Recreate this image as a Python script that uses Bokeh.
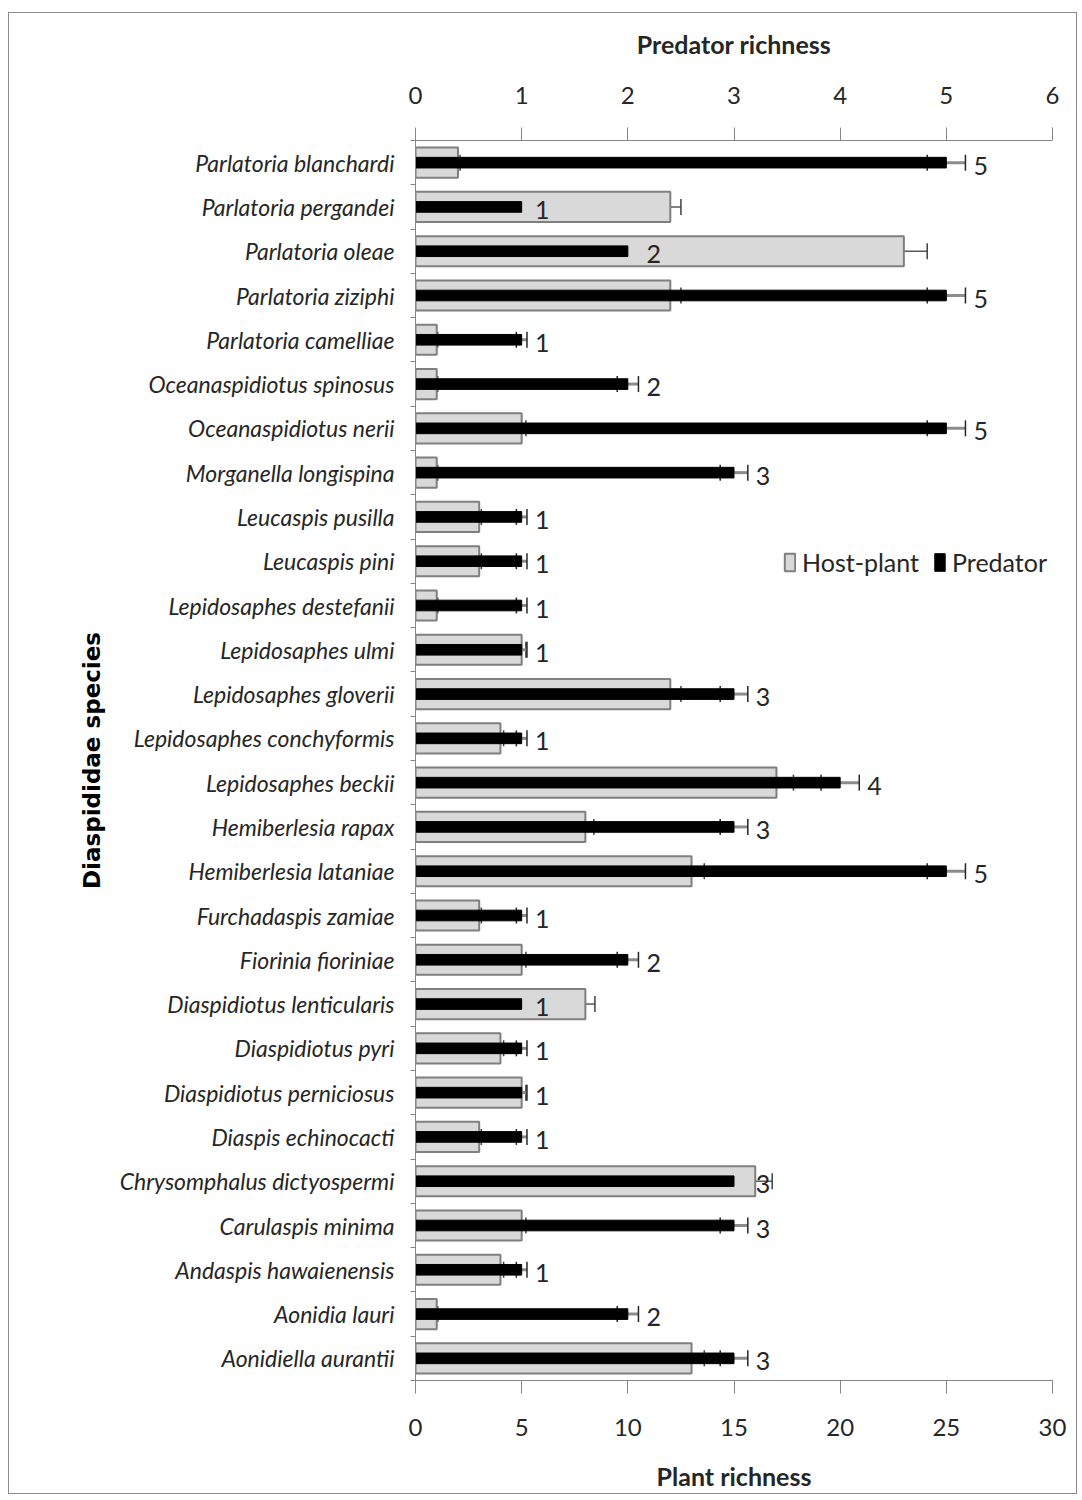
from bokeh.plotting import figure
from bokeh.models import (Range1d, LinearAxis, FixedTicker, Whisker, ColumnDataSource,
                          Legend, LegendItem, TeeHead)
from bokeh.embed import file_html
from bokeh.resources import INLINE
from bokeh.core.properties import value

species = ["Parlatoria blanchardi", "Parlatoria pergandei", "Parlatoria oleae",
           "Parlatoria ziziphi", "Parlatoria camelliae", "Oceanaspidiotus spinosus",
           "Oceanaspidiotus nerii", "Morganella longispina", "Leucaspis pusilla",
           "Leucaspis pini", "Lepidosaphes destefanii", "Lepidosaphes ulmi",
           "Lepidosaphes gloverii", "Lepidosaphes conchyformis", "Lepidosaphes beckii",
           "Hemiberlesia rapax", "Hemiberlesia lataniae", "Furchadaspis zamiae",
           "Fiorinia fioriniae", "Diaspidiotus lenticularis", "Diaspidiotus pyri",
           "Diaspidiotus perniciosus", "Diaspis echinocacti", "Chrysomphalus dictyospermi",
           "Carulaspis minima", "Andaspis hawaienensis", "Aonidia lauri", "Aonidiella aurantii"]
plant_richness = [2, 12, 23, 12, 1, 1, 5, 1, 3, 3, 1, 5, 12, 4, 17, 8, 13, 3, 5, 8, 4, 5, 3, 16, 5, 4, 1, 13]
plant_err = [0.1, 0.5, 1.1, 0.5, 0.05, 0.05, 0.2, 0.05, 0.1, 0.1, 0.05, 0.2, 0.5, 0.15, 0.8,
             0.4, 0.6, 0.1, 0.2, 0.45, 0.15, 0.2, 0.1, 0.8, 0.2, 0.15, 0.05, 0.6]
predator_richness = [5, 1, 2, 5, 1, 2, 5, 3, 1, 1, 1, 1, 3, 1, 4, 3, 5, 1, 2, 1, 1, 1, 1, 3, 3, 1, 2, 3]
predator_err = [0.18, 0.05, 0.1, 0.18, 0.05, 0.1, 0.18, 0.13, 0.05, 0.05, 0.05, 0.05, 0.13, 0.05, 0.18,
                0.13, 0.18, 0.05, 0.1, 0.05, 0.05, 0.05, 0.05, 0.13, 0.13, 0.05, 0.1, 0.13]
plant_ticks = [0, 5, 10, 15, 20, 25, 30]
predator_ticks = [0, 1, 2, 3, 4, 5, 6]

n = len(species)
ypos = [n - 1 - i for i in range(n)]

src = ColumnDataSource(dict(
    y=ypos,
    plant=plant_richness,
    plo=[v - e for v, e in zip(plant_richness, plant_err)],
    phi=[v + e for v, e in zip(plant_richness, plant_err)],
    pred=predator_richness,
    qlo=[v - e for v, e in zip(predator_richness, predator_err)],
    qhi=[v + e for v, e in zip(predator_richness, predator_err)],
    qtxt=[str(v) for v in predator_richness],
))

FONT = "Lato"
OX, OY = 9, 13          # canvas origin on the page (margin + border)
W, H = 1069, 1482
p = figure(width=W, height=H, output_backend="svg", toolbar_location=None,
           x_range=Range1d(0, 30), y_range=Range1d(-0.5, n - 0.5),
           x_axis_location=None, y_axis_location=None,
           min_border_left=415 - OX, min_border_right=W - (1052 - OX),
           min_border_top=140 - OY, min_border_bottom=H - (1380 - OY))
p.extra_x_ranges = {"pred": Range1d(0, 6)}
p.xgrid.visible = False
p.ygrid.visible = False
p.outline_line_color = None
p.styles = {"border": "1px solid #8c8c8c", "margin-left": "8px", "margin-top": "12px"}

axis_col = "#868686"
txt_col = "#262626"

bottom = LinearAxis(ticker=FixedTicker(ticks=plant_ticks), axis_label="Plant richness")
top = LinearAxis(x_range_name="pred", ticker=FixedTicker(ticks=predator_ticks),
                 axis_label="Predator richness")
for ax in (bottom, top):
    ax.axis_line_color = axis_col
    ax.major_tick_line_color = axis_col
    ax.major_tick_out = 13
    ax.major_tick_in = 0
    ax.minor_tick_line_color = None
    ax.major_label_text_font = FONT
    ax.major_label_text_font_size = "24px"
    ax.major_label_text_color = txt_col
    ax.axis_label_text_font = FONT
    ax.axis_label_text_font_style = "bold"
    ax.axis_label_text_font_size = "25px"
    ax.axis_label_text_color = txt_col
top.major_label_standoff = 24
top.axis_label_standoff = 25
bottom.major_label_standoff = 25
bottom.axis_label_standoff = 22
p.add_layout(bottom, "below")
p.add_layout(top, "above")

left = LinearAxis(ticker=FixedTicker(ticks=ypos, minor_ticks=[k + 0.5 for k in range(-1, n)]),
                  major_label_overrides={y: s for y, s in zip(ypos, species)},
                  axis_label="Diaspididae species")
left.axis_line_color = axis_col
left.major_tick_line_color = None
left.minor_tick_line_color = axis_col
left.minor_tick_out = 5
left.minor_tick_in = 0
left.major_label_text_font = FONT
left.major_label_text_font_style = "italic"
left.major_label_text_font_size = "23px"
left.major_label_text_color = txt_col
left.major_label_standoff = 15
left.axis_label_text_font = "DejaVu Sans"
left.axis_label_text_font_style = "bold"
left.axis_label_text_font_size = "23px"
left.axis_label_text_color = "#000000"
left.axis_label_standoff = 12
p.add_layout(left, "left")

r_plant = p.hbar(y="y", right="plant", left=0, height=0.68, source=src,
                 fill_color="#d9d9d9", line_color="#7f7f7f", line_width=2)
p.add_layout(Whisker(base="y", lower="plo", upper="phi", dimension="width", source=src,
                     line_color="#595959", line_width=1.5,
                     upper_head=TeeHead(size=16, line_color="#404040", line_width=1.5),
                     lower_head=TeeHead(size=16, line_color="#404040", line_width=1.5)))

r_pred = p.hbar(y="y", right="pred", left=0, height=0.24, source=src,
                x_range_name="pred", fill_color="#000000", line_color="#000000")
p.add_layout(Whisker(base="y", lower="qlo", upper="qhi", dimension="width", source=src,
                     x_range_name="pred", line_color="#8c8c8c", line_width=3,
                     upper_head=TeeHead(size=16, line_color="#262626", line_width=1.5),
                     lower_head=TeeHead(size=16, line_color="#262626", line_width=1.5)))

p.text(x="qhi", y="y", text="qtxt", source=src, x_range_name="pred",
       x_offset=8, y_offset=3, text_baseline="middle", text_align="left",
       text_font=value(FONT), text_font_size="25px", text_color=txt_col)

legend = Legend(items=[LegendItem(label="Host-plant", renderers=[r_plant]),
                       LegendItem(label="Predator", renderers=[r_pred])],
                orientation="horizontal", location=(368, 803),
                glyph_width=13, glyph_height=22, label_standoff=6, spacing=14,
                padding=0, margin=0, border_line_color=None, background_fill_alpha=0,
                label_text_font=FONT, label_text_font_size="25px", label_text_color=txt_col)
p.add_layout(legend, "center")

open("out.html", "w").write(file_html(p, INLINE))
